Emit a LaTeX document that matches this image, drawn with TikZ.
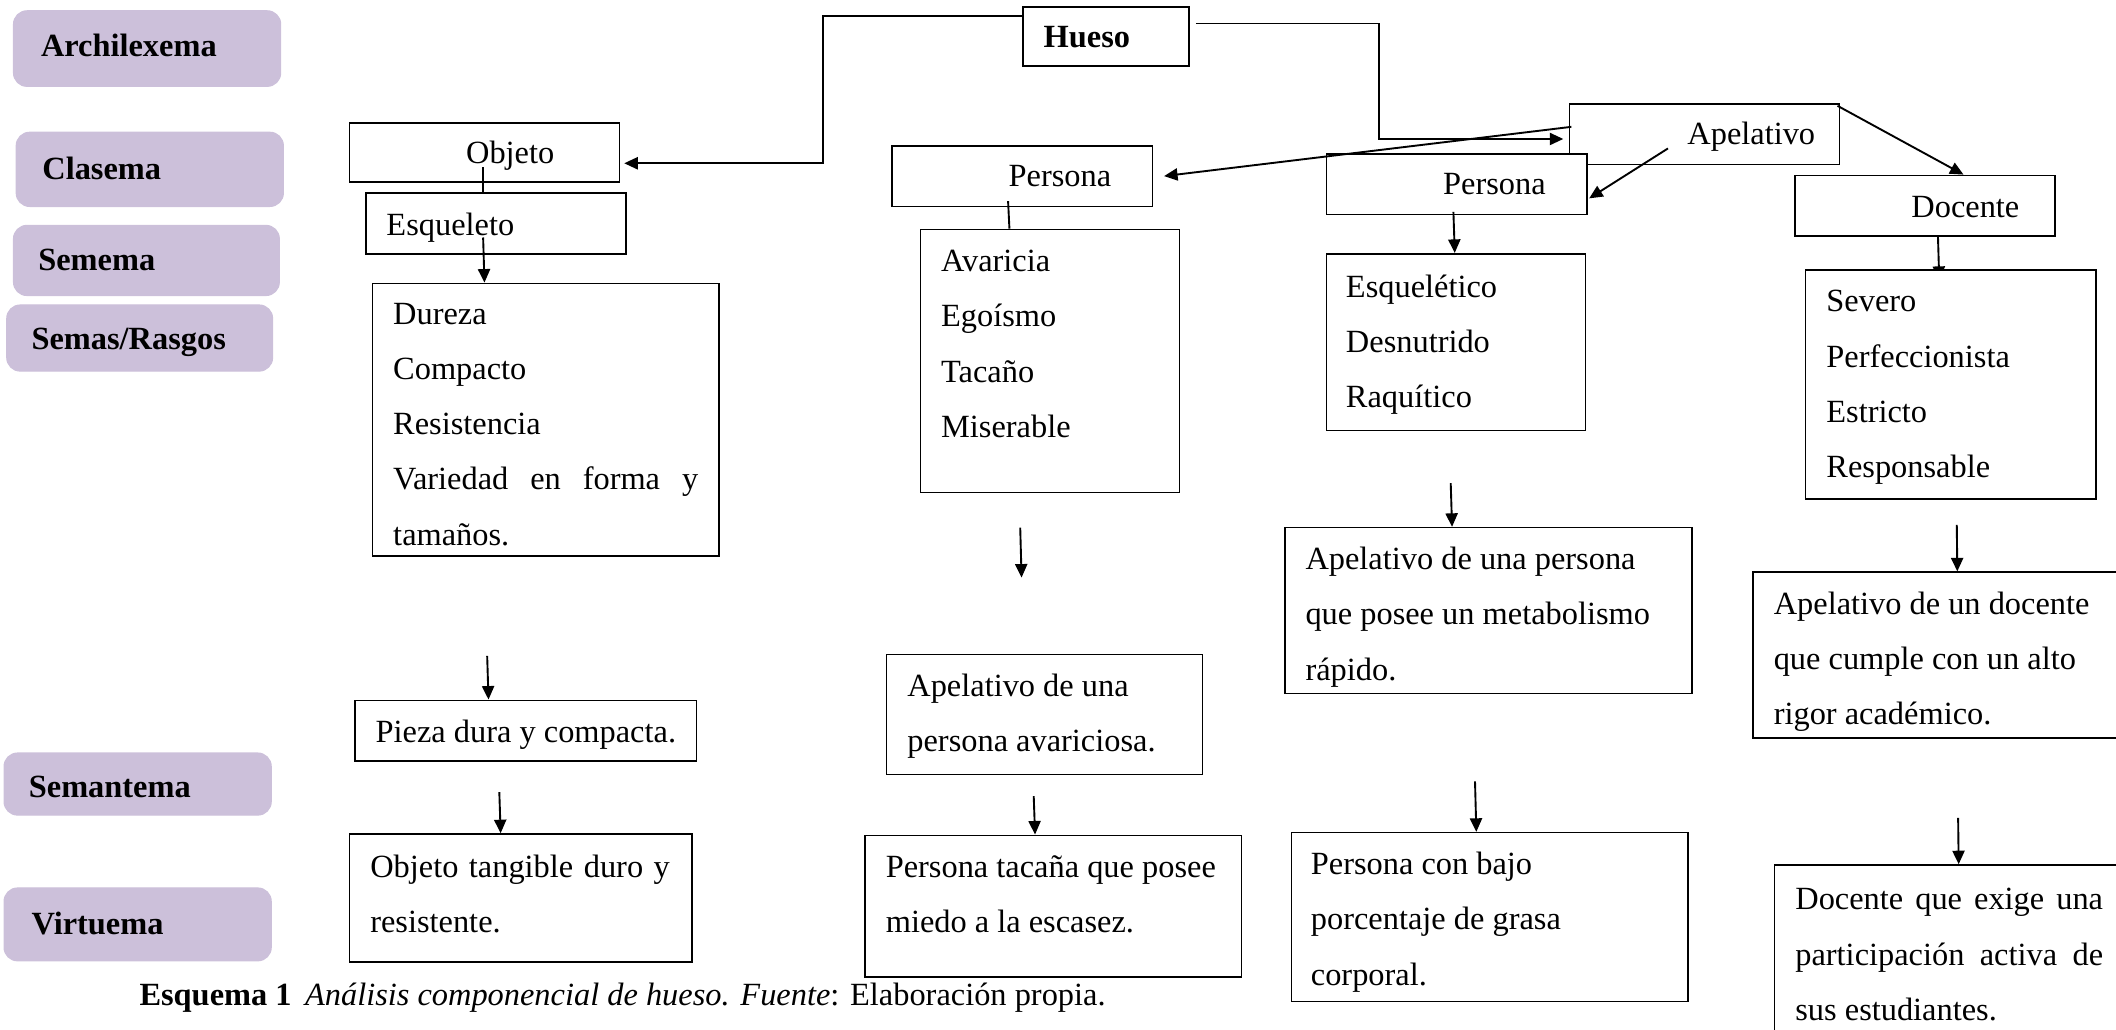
\documentclass[tikz,border=0pt]{standalone}
\usepackage{fontspec}
\setmainfont{Liberation Serif}
\usetikzlibrary{arrows.meta,fit}
\definecolor{lav}{RGB}{204,192,218}
\pgfdeclarelayer{back}
\pgfsetlayers{back,main}

\begin{document}
\begin{tikzpicture}[x=0.5pt,y=-0.5pt,
  lvl/.style={draw=lav, fill=lav, rounded corners=5pt, inner sep=0pt},
  lvltxt/.style={anchor=west, inner sep=0pt, font=\fontsize{12}{20.5}\selectfont\bfseries},
  box/.style={draw, line width=0.6pt, fill=white, inner sep=0pt},
  txt/.style={inner sep=0pt, font=\fontsize{12}{20.5}\selectfont},
  one/.style={txt, anchor=west},
  many/.style={txt, anchor=north west, align=left},
  conn/.style={line width=0.7pt},
  arr/.style={conn, -{Triangle[length=5pt,width=4.5pt]}},
]
\useasboundingbox (0,0) rectangle (1568,763);
\clip (0,0) rectangle (1568,763);

% ---- level labels ----
\node[lvl, fit={(10,8) (208,64)}] (l-arch) {};
\node[lvltxt] (t-arch) at (30,34) {\strut Archilexema};
\node[lvl, fit={(12,98) (210,153)}] (l-clas) {};
\node[lvltxt] (t-clas) at (31,125) {\strut Clasema};
\node[lvl, fit={(10,167) (207,219)}] (l-seme) {};
\node[lvltxt] (t-seme) at (28,192) {\strut Semema};
\node[lvl, fit={(5,226) (202,275)}] (l-semas) {};
\node[lvltxt] (t-semas) at (23,251) {\strut Semas/Rasgos};
\node[lvl, fit={(3,558) (201,604)}] (l-seman) {};
\node[lvltxt] (t-seman) at (21,583) {\strut Semantema};
\node[lvl, fit={(3,658) (201,712)}] (l-virt) {};
\node[lvltxt] (t-virt) at (23,684) {\strut Virtuema};

% ---- root ----
\node[box, fit={(758,5) (881,49)}] (hueso) {};
\node[lvltxt] (t-hueso) at (773,27) {\strut Hueso};

% ---- column: objeto ----
\node[box, fit={(259,91) (459,135)}] (objeto) {};
\node[one] (t-objeto) at (345,113) {\strut Objeto};
\node[box, fit={(271,143) (464,188)}] (esq) {};
\node[one] (t-esq) at (286,166) {\strut Esqueleto};
\node[box, fit={(276,210) (533,412)}] (dureza) {};
\node[many] (t-dureza) at (291,211) {\strut Dureza\\Compacto\\Resistencia\\\makebox[113pt][s]{Variedad en forma y}\\tamaños.};
\node[box, fit={(263,519) (516,564)}] (pieza) {};
\node[one] (t-pieza) at (278,542) {\strut Pieza dura y compacta.};
\node[box, fit={(259,618) (513,713)}] (objt) {};
\node[many] (t-objt) at (274,621) {\strut\makebox[111pt][s]{Objeto tangible duro y}\\resistente.};

% ---- column: persona (avaricia) ----
\node[box, fit={(661,108) (854,153)}] (persm) {};
\node[one] (t-persm) at (747,130) {\strut Persona};
\node[box, fit={(682,170) (874,365)}] (avar) {};
\node[many] (t-avar) at (697,172) {\strut Avaricia\\Egoísmo\\Tacaño\\Miserable};
\node[box, fit={(657,485) (891,574)}] (apuna) {};
\node[many] (t-apuna) at (672,487) {\strut Apelativo de una\\persona avariciosa.};
\node[box, fit={(641,619) (920,724)}] (ptac) {};
\node[many] (t-ptac) at (656,621) {\strut Persona tacaña que posee\\miedo a la escasez.};

% ---- column: apelativo / persona ----
\node[box, fit={(1163,77) (1363,122)}] (apel) {};
\node[one] (t-apel) at (1250,99) {\strut Apelativo};
\node[box, fit={(983,114) (1176,159)}] (persr) {};
\node[one] (t-persr) at (1069,136) {\strut Persona};
\node[box, fit={(983,188) (1175,319)}] (esqt) {};
\node[many] (t-esqt) at (997,191) {\strut Esquelético\\Desnutrido\\Raquítico};
\node[box, fit={(952,391) (1254,514)}] (apmet) {};
\node[many] (t-apmet) at (967,393) {\strut Apelativo de una persona\\que posee un metabolismo\\rápido.};
\node[box, fit={(957,617) (1251,742)}] (pcb) {};
\node[many] (t-pcb) at (971,619) {\strut Persona con bajo\\porcentaje de grasa\\corporal.};

% ---- column: docente ----
\node[box, fit={(1330,130) (1523,175)}] (doc) {};
\node[one] (t-doc) at (1416,153) {\strut Docente};
\node[box, fit={(1338,200) (1553,370)}] (sev) {};
\node[many] (t-sev) at (1353,202) {\strut Severo\\Perfeccionista\\Estricto\\Responsable};
\node[box, fit={(1299,424) (1590,547)}] (apdoc) {};
\node[many] (t-apdoc) at (1314,426) {\strut Apelativo de un docente\\que cumple con un alto\\rigor académico.};
\node[box, fit={(1315,641) (1590,790)}] (dex) {};
\node[many] (t-dex) at (1330,645) {\strut\makebox[114pt][s]{Docente que exige una}\\\makebox[114pt][s]{participación activa de}\\sus estudiantes.};

% ---- caption ----
\node[one] (cap) at (103,737) {\strut\textbf{Esquema 1}\hspace{5pt}\textit{Análisis componencial de hueso. Fuente}: Elaboración propia.};

% ---- connectors ----
\coordinate (bl) at (610,121);
\coordinate (br) at (1022,103);
\draw[arr] ([yshift=-3.75pt]hueso.north west) -| (bl) -- ([xshift=1.5pt,yshift=-4pt]objeto.east);
\draw[arr] ([xshift=2.25pt,yshift=-6.5pt]hueso.north east) -| (br) -- ([xshift=-2pt,yshift=-1.75pt]apel.west);
\draw[arr] ([xshift=1pt,yshift=2.75pt]apel.west) -- ([xshift=4pt]persm.east);
\draw[arr] ([xshift=-13.5pt,yshift=-5.25pt]apel.center) -- ([xshift=0.5pt,yshift=-5.25pt]persr.east);
\draw[arr] ([xshift=-1pt,yshift=-1pt]apel.north east) -- ([xshift=14.25pt]doc.north);

\draw[conn] ([xshift=-0.5pt,yshift=-5.5pt]objeto.center) -- ([xshift=-4.75pt]esq.north);
\draw[arr] ([xshift=-4.75pt,yshift=-5.25pt]esq.center) -- ([xshift=-22.75pt]dureza.north);
\draw[conn] ([xshift=-5.25pt,yshift=-9.25pt]persm.center) -- ([xshift=-15pt]avar.north);
\draw[arr] ([xshift=-1.25pt,yshift=-10.25pt]persr.center) -- ([xshift=-0.5pt]esqt.north);
\begin{pgfonlayer}{back}
\draw[arr] ([xshift=4.75pt,yshift=-10.25pt]doc.center) -- ([xshift=-4.25pt,yshift=-4pt]sev.north);
\end{pgfonlayer}

\coordinate (s1) at (361,486);
\coordinate (s2) at (370,587);
\coordinate (s3) at (756,391);
\coordinate (e3) at (757,428);
\coordinate (s4) at (766,590);
\coordinate (s5) at (1075,358);
\coordinate (s6) at (1093,579);
\coordinate (s7) at (1450,389);
\coordinate (s8) at (1451,606);
\draw[arr] (s1) -- ([xshift=-13.75pt]pieza.north);
\draw[arr] (s2) -- ([xshift=-7.5pt]objt.north);
\draw[arr] (s3) -- (e3);
\draw[arr] (s4) -- ([xshift=-6.75pt]ptac.north);
\draw[arr] (s5) -- ([xshift=-13.5pt]apmet.north);
\draw[arr] (s6) -- ([xshift=-5pt]pcb.north);
\draw[arr] (s7) -- ([xshift=76pt]apdoc.north west);
\draw[arr] (s8) -- ([xshift=68.5pt]dex.north west);
\end{tikzpicture}
\end{document}
